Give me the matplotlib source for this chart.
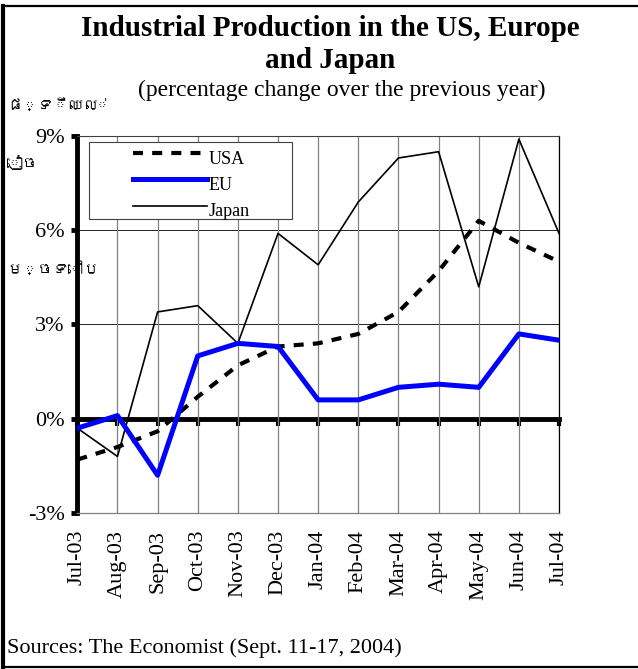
import matplotlib
matplotlib.use("Agg")
import matplotlib.pyplot as plt
from matplotlib import font_manager, ft2font
from matplotlib.lines import Line2D
from matplotlib.patches import Rectangle

months = ["Jul-03", "Aug-03", "Sep-03", "Oct-03", "Nov-03", "Dec-03", "Jan-04",
          "Feb-04", "Mar-04", "Apr-04", "May-04", "Jun-04", "Jul-04"]
usa = [-1.3, -0.9, -0.4, 0.7, 1.7, 2.3, 2.4, 2.7, 3.4, 4.7, 6.3, 5.6, 5.0]
eu = [-0.3, 0.1, -1.8, 2.0, 2.4, 2.3, 0.6, 0.6, 1.0, 1.1, 1.0, 2.7, 2.5]
japan = [-0.3, -1.2, 3.4, 3.6, 2.4, 5.9, 4.9, 6.9, 8.3, 8.5, 4.2, 8.9, 5.9]
yticks = [-3, 0, 3, 6, 9]
khmer_lines = ["ផ្ទឹឈល់", "ៀច", "ម្ចទៅប"]

plt.rcParams["font.family"] = ["Liberation Serif", "DejaVu Serif"]

# look for any font on the system that has Khmer glyphs
khmer_family = ["Noto Sans", "DejaVu Sans"]
for path in font_manager.findSystemFonts():
    try:
        if 0x1780 in ft2font.FT2Font(path).get_charmap():
            font_manager.fontManager.addfont(path)
            name = font_manager.FontProperties(fname=path).get_name()
            khmer_family = [name, "DejaVu Sans"]
            break
    except Exception:
        continue

fig = plt.figure(figsize=(6.38, 6.69), dpi=100)
ax = fig.add_axes([0.1212, 0.2332, 0.755, 0.5635])

x = list(range(len(months)))
ax.plot(x, usa, color="black", lw=3, dashes=(2.4, 2.2), label="USA", zorder=3)
ax.plot(x, eu, color="#0000ff", lw=3.6, label="EU", zorder=4)
ax.plot(x, japan, color="black", lw=1.2, label="Japan", zorder=3)

ax.set_xlim(0, len(months) - 1)
ax.set_ylim(-3, 9)
ax.set_yticks(yticks)
ax.set_yticklabels([f"{v}%" for v in yticks], fontsize=16)
ax.set_xticks(x)
ax.set_xticklabels(months, rotation=90, fontsize=16)
ax.tick_params(axis="x", length=0, pad=12)
ax.tick_params(axis="y", direction="out", length=4, width=3.5, pad=5)

ax.grid(axis="x", color="#808080", lw=0.9)
for v in yticks[1:-1]:
    ax.axhline(v, color="black", lw=0.6, zorder=1)

ax.spines["left"].set_linewidth(3.5)
ax.spines["bottom"].set_color("#808080")
ax.spines["bottom"].set_linewidth(0.9)
ax.spines["top"].set_color("#404040")
ax.spines["top"].set_linewidth(0.8)
ax.spines["right"].set_color("black")
ax.spines["right"].set_linewidth(0.9)

# thick zero line with tick marks
sec = ax.secondary_xaxis(0.25)
sec.set_xticks(x)
sec.set_xticklabels([])
sec.spines["bottom"].set_linewidth(3.5)
sec.tick_params(direction="out", length=5, width=3)

# legend box is wider than its content
ax.add_patch(Rectangle((0.0243, 0.780), 0.421, 0.204, transform=ax.transAxes,
                       fill=True, facecolor="white", edgecolor="#404040",
                       lw=0.8, zorder=5))
leg = ax.legend(loc="upper left", bbox_to_anchor=(0.1156, 0.973), fontsize=13,
                frameon=False, handlelength=4.1, handletextpad=0.1,
                labelspacing=0.52, borderpad=0, borderaxespad=0)
leg.set_zorder(6)
for t in leg.get_texts():
    t.set_va("center")

fig.text(0.517, 0.958, "Industrial Production in the US, Europe",
         ha="center", va="center", fontsize=21, fontweight="bold")
fig.text(0.517, 0.910, "and Japan",
         ha="center", va="center", fontsize=21, fontweight="bold")
fig.text(0.536, 0.865, "(percentage change over the previous year)",
         ha="center", va="center", fontsize=17)
fig.text(0.011, 0.031, "Sources: The Economist (Sept. 11-17, 2004)",
         ha="left", va="center", fontsize=16)

# Khmer label at the left edge
kh_y = [0.843, 0.758, 0.598]
for s, yy in zip(khmer_lines, kh_y):
    fig.text(0.011, yy, s, ha="left", va="center", fontsize=11,
             fontweight="bold", family=khmer_family)

# outer frame
fig.add_artist(Line2D([0.004, 1.0], [0.991, 0.991], color="black", lw=1.6,
                      transform=fig.transFigure))
fig.add_artist(Line2D([0.004, 0.004], [0.002, 0.991], color="black", lw=3,
                      transform=fig.transFigure))
fig.add_artist(Line2D([0.004, 1.0], [0.003, 0.003], color="black", lw=1.6,
                      transform=fig.transFigure))

fig.savefig("out.png", dpi=100)
